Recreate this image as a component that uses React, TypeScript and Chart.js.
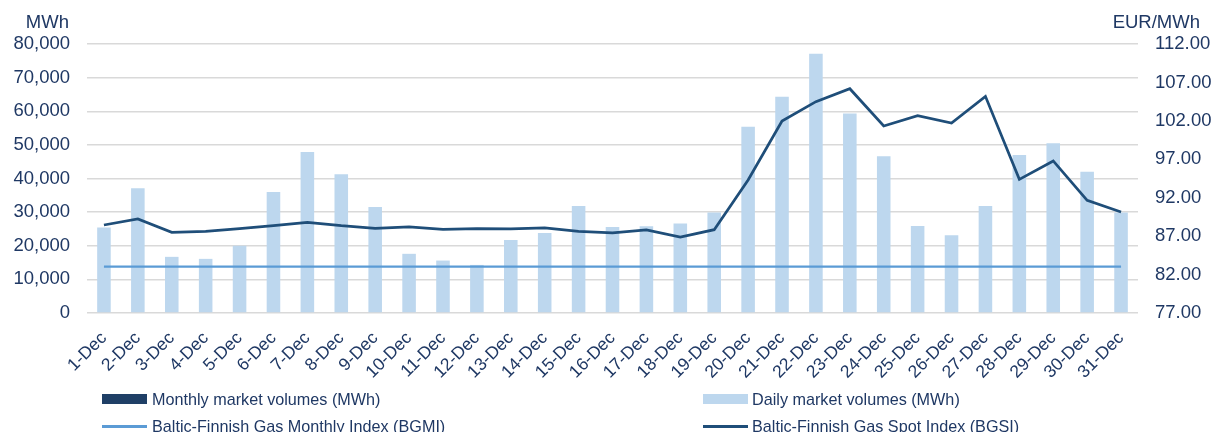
import React, { useEffect, useRef } from "react";
import { Chart, registerables } from "chart.js";

Chart.register(...registerables);

const categories = [
  "1-Dec", "2-Dec", "3-Dec", "4-Dec", "5-Dec", "6-Dec", "7-Dec", "8-Dec", "9-Dec", "10-Dec",
  "11-Dec", "12-Dec", "13-Dec", "14-Dec", "15-Dec", "16-Dec", "17-Dec", "18-Dec", "19-Dec", "20-Dec",
  "21-Dec", "22-Dec", "23-Dec", "24-Dec", "25-Dec", "26-Dec", "27-Dec", "28-Dec", "29-Dec", "30-Dec", "31-Dec",
];

const dailyVolumes = [
  25400, 37100, 16700, 16100, 20000, 36000, 47900, 41300, 31500, 17600,
  15600, 14300, 21700, 23800, 31800, 25600, 25800, 26600, 29900, 55400,
  64300, 77100, 59300, 46600, 25900, 23100, 31800, 47000, 50500, 42000, 29900,
];

const monthlyVolumes: (number | null)[] = categories.map(() => null);

const bgsi = [
  88.45, 89.23, 87.5, 87.63, 87.97, 88.36, 88.8, 88.36, 88.02, 88.19,
  87.89, 87.97, 87.93, 88.06, 87.63, 87.41, 87.8, 86.89, 87.84, 94.3,
  101.98, 104.5, 106.18, 101.33, 102.67, 101.72, 105.19, 94.39, 96.78, 91.66, 90.14,
];

const bgmiValue = 83.03;
const bgmi = categories.map(() => bgmiValue);

const leftTicks = { min: 0, max: 80000, step: 10000 };
const rightTicks = { min: 77, max: 112, step: 5 };

const FONT = "'Liberation Sans', Arial, sans-serif";
const TEXT = "#1F3864";

export default function App() {
  const ref = useRef<HTMLCanvasElement | null>(null);

  useEffect(() => {
    if (!ref.current) return;
    const chart = new Chart(ref.current, {
      type: "bar",
      data: {
        labels: categories,
        datasets: [
          {
            type: "line",
            label: "Baltic-Finnish Gas Spot Index (BGSI)",
            data: bgsi,
            yAxisID: "y1",
            borderColor: "#1F4E79",
            borderWidth: 2.75,
            pointRadius: 0,
            tension: 0,
            order: 0,
          },
          {
            type: "line",
            label: "Baltic-Finnish Gas Monthly Index (BGMI)",
            data: bgmi,
            yAxisID: "y1",
            borderColor: "#5B9BD5",
            borderWidth: 2.25,
            pointRadius: 0,
            tension: 0,
            order: 1,
          },
          {
            type: "bar",
            label: "Monthly market volumes (MWh)",
            data: monthlyVolumes,
            yAxisID: "y",
            backgroundColor: "#1F3F66",
            grouped: false,
            barPercentage: 0.4,
            categoryPercentage: 1,
            order: 3,
          },
          {
            type: "bar",
            label: "Daily market volumes (MWh)",
            data: dailyVolumes,
            yAxisID: "y",
            backgroundColor: "#BDD7EE",
            grouped: false,
            barPercentage: 0.4,
            categoryPercentage: 1,
            order: 2,
          },
        ],
      } as any,
      options: {
        responsive: false,
        animation: false,
        layout: { padding: { top: 44, left: 0, right: 0, bottom: 0 } },
        plugins: { legend: { display: false }, tooltip: { enabled: false } },
        scales: {
          x: {
            grid: { display: false, drawTicks: false },
            border: { display: false },
            ticks: {
              autoSkip: false,
              maxRotation: 45,
              minRotation: 45,
              padding: 15,
              color: TEXT,
              font: { family: FONT, size: 17.5 },
            },
            afterFit: (s: any) => {
              s.height = 119;
            },
          },
          y: {
            position: "left",
            min: leftTicks.min,
            max: leftTicks.max,
            grid: { color: "#D9D9D9", lineWidth: 1.5, drawTicks: false },
            border: { display: false },
            ticks: {
              stepSize: leftTicks.step,
              padding: 17,
              color: TEXT,
              font: { family: FONT, size: 18.5 },
              callback: (v: any) => Number(v).toLocaleString("en-US"),
            },
            afterFit: (s: any) => {
              s.width = 87;
            },
          },
          y1: {
            position: "right",
            min: rightTicks.min,
            max: rightTicks.max,
            grid: { display: false, drawTicks: false },
            border: { display: false },
            ticks: {
              stepSize: rightTicks.step,
              padding: 17,
              color: TEXT,
              font: { family: FONT, size: 18.5 },
              callback: (v: any) => Number(v).toFixed(2),
            },
            afterFit: (s: any) => {
              s.width = 74;
            },
          },
        },
      } as any,
    });
    return () => chart.destroy();
  }, []);

  const textStyle: React.CSSProperties = {
    position: "absolute",
    fontFamily: FONT,
    color: TEXT,
    whiteSpace: "nowrap",
  };

  return (
    <div
      style={{
        position: "fixed",
        left: 0,
        top: 0,
        width: 1212,
        height: 432,
        overflow: "hidden",
        background: "#fff",
      }}
    >
      <canvas ref={ref} width={1212} height={432} style={{ position: "absolute", left: 0, top: 0 }} />
      <div style={{ ...textStyle, left: 0, width: 69, top: 12, fontSize: 18.5, lineHeight: "20px", textAlign: "right" }}>MWh</div>
      <div style={{ ...textStyle, left: 0, width: 1200, top: 12, fontSize: 18.5, lineHeight: "20px", textAlign: "right" }}>EUR/MWh</div>

      <div style={{ position: "absolute", left: 102, top: 394, width: 45, height: 10, background: "#1F3F66" }} />
      <div style={{ ...textStyle, left: 152, top: 389, fontSize: 16.2, lineHeight: "20px" }}>Monthly market volumes (MWh)</div>

      <div style={{ position: "absolute", left: 703, top: 394, width: 45, height: 10, background: "#BDD7EE" }} />
      <div style={{ ...textStyle, left: 752, top: 389, fontSize: 16.2, lineHeight: "20px" }}>Daily market volumes (MWh)</div>

      <div style={{ position: "absolute", left: 102, top: 425, width: 45, height: 2.5, background: "#5B9BD5" }} />
      <div style={{ ...textStyle, left: 152, top: 416, fontSize: 16.2, lineHeight: "20px" }}>Baltic-Finnish Gas Monthly Index (BGMI)</div>

      <div style={{ position: "absolute", left: 703, top: 425, width: 45, height: 2.5, background: "#1F4E79" }} />
      <div style={{ ...textStyle, left: 752, top: 416, fontSize: 16.2, lineHeight: "20px" }}>Baltic-Finnish Gas Spot Index (BGSI)</div>
    </div>
  );
}
